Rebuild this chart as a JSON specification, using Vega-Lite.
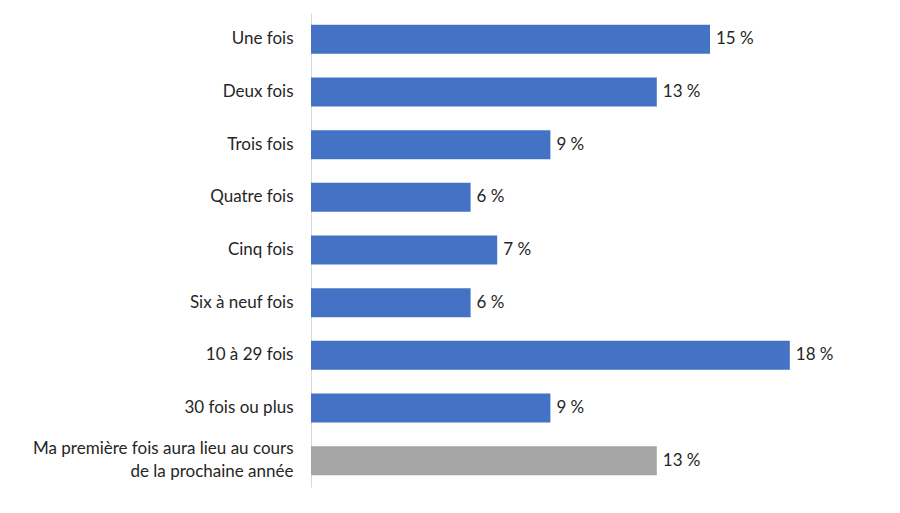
{
  "$schema": "https://vega.github.io/schema/vega-lite/v6.json",
  "width": 532,
  "height": 474,
  "autosize": {"type": "none"},
  "padding": {"left": 311, "top": 13, "right": 57, "bottom": 26},
  "background": "white",
  "config": {"view": {"stroke": null}, "font": "Lato"},
  "data": {
    "values": [
      {"cat": "Une fois", "pct": 15, "label": "15 %", "grp": "a"},
      {"cat": "Deux fois", "pct": 13, "label": "13 %", "grp": "a"},
      {"cat": "Trois fois", "pct": 9, "label": "9 %", "grp": "a"},
      {"cat": "Quatre fois", "pct": 6, "label": "6 %", "grp": "a"},
      {"cat": "Cinq fois", "pct": 7, "label": "7 %", "grp": "a"},
      {"cat": "Six à neuf fois", "pct": 6, "label": "6 %", "grp": "a"},
      {"cat": "10 à 29 fois", "pct": 18, "label": "18 %", "grp": "a"},
      {"cat": "30 fois ou plus", "pct": 9, "label": "9 %", "grp": "a"},
      {"cat": "Ma première fois aura lieu au cours de la prochaine année", "pct": 13, "label": "13 %", "grp": "b"}
    ]
  },
  "encoding": {
    "y": {
      "field": "cat", "type": "nominal", "sort": null,
      "scale": {"paddingInner": 0.45, "paddingOuter": 0.225},
      "axis": {
        "title": null, "ticks": false, "domainColor": "#d9d9d9", "labelFontSize": 17,
        "labelColor": "#262626", "labelPadding": 18, "labelLimit": 320,
        "labelExpr": "datum.value == 'Ma première fois aura lieu au cours de la prochaine année' ? ['Ma première fois aura lieu au cours', 'de la prochaine année'] : datum.value",
        "labelLineHeight": 23,
        "labelOffset": {"condition": {"test": "datum.value == 'Ma première fois aura lieu au cours de la prochaine année'", "value": -12}, "value": 0}
      }
    },
    "x": {
      "field": "pct", "type": "quantitative",
      "scale": {"domain": [0, 20]},
      "axis": null
    }
  },
  "layer": [
    {
      "mark": {"type": "bar"},
      "encoding": {
        "color": {"field": "grp", "type": "nominal", "scale": {"domain": ["a", "b"], "range": ["#4472C4", "#A5A5A5"]}, "legend": null}
      }
    },
    {
      "mark": {"type": "text", "align": "left", "dx": 6, "fontSize": 17, "color": "#262626"},
      "encoding": {"text": {"field": "label", "type": "nominal"}}
    }
  ]
}
